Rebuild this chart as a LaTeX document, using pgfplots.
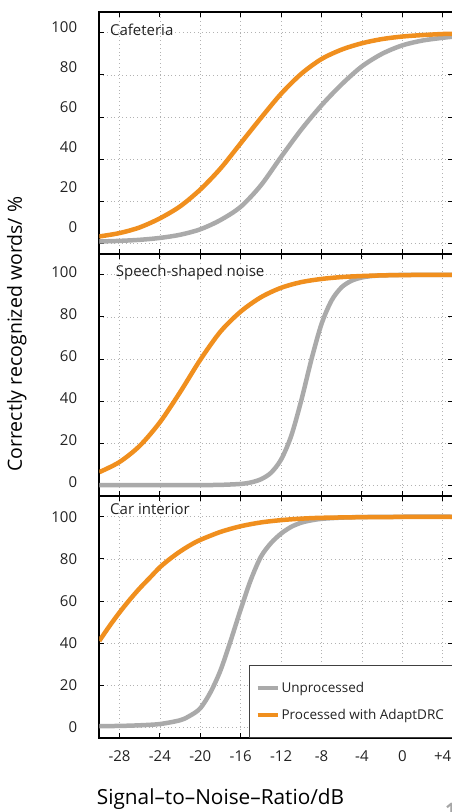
\documentclass[border=0pt]{standalone}
\usepackage{fontspec}
\setmainfont{Open Sans}
\usepackage{pgfplots}
\pgfplotsset{compat=1.18}
\definecolor{myorange}{RGB}{240,143,30}
\definecolor{mygray}{RGB}{170,170,170}
\definecolor{txt}{RGB}{34,34,34}

\pgfplotstableread{
x y
-30 0.8
-28 1.1
-26 1.6
-24 2.5
-22 4.0
-20 6.6
-18 11.0
-16 17.3
-14 27.5
-12 41.0
-10 54.0
-8 65.5
-6 75.5
-4 84.0
-2 90.0
0 94.0
2 96.3
4 97.6
5 98.1
}\grayA
\pgfplotstableread{
x y
-30 3.2
-28 4.8
-26 7.5
-24 11.8
-22 17.5
-20 25.5
-18 35.5
-16 47.5
-14 59.5
-12 71
-10 80.5
-8 87.5
-6 92
-4 95
-2 97
0 98.2
2 98.9
4 99.4
5 99.5
}\orangeA
\pgfplotstableread{
x y
-30 0
-24 0
-20 0.05
-18 0.15
-16 0.6
-15 1.3
-14 2.8
-13 5.9
-12 12.2
-11 23.4
-10 40.3
-9 59.7
-8 76.6
-7 87.8
-6 94.1
-5 97.2
-4 98.7
-3 99.4
-2 99.7
0 99.9
5 100
}\grayB
\pgfplotstableread{
x y
-30 6.2
-28 11.0
-26 18.7
-24 29.9
-22 44.2
-20 59.6
-18 73.0
-16 82.5
-14 89.3
-12 93.8
-10 96.5
-8 98.0
-6 98.9
-4 99.4
-2 99.7
0 99.85
5 100
}\orangeB
\pgfplotstableread{
x y
-30 0.5
-28 0.6
-26 0.9
-24 1.5
-22 3.3
-21 5.5
-20 9.0
-19 16.5
-18 27.0
-17 41.0
-16 56.0
-15 70.0
-14 81.0
-13 87.5
-12 92.0
-11 95.2
-10 97.2
-9 98.3
-8 99.0
-6 99.6
-4 99.85
0 100
5 100
}\grayC
\pgfplotstableread{
x y
-30 41
-29 48
-28 54.5
-27 60.5
-26 66
-25 71
-24 76
-23 80
-22 83.5
-21 86.5
-20 89
-18 92.8
-16 95.5
-14 97.3
-12 98.4
-10 99.1
-8 99.5
-4 99.8
0 99.9
5 100
}\orangeC

\pgfplotsset{panel/.style={
  scale only axis, width=353.5pt, height=242pt,
  xmin=-30, xmax=5, ymin=-5, ymax=110,
  xtick={-28,-24,...,4}, ytick={0,20,...,100},
  xticklabels={},
  yticklabels={0,20,40,60,80,100},
  grid=major,
  major grid style={black!30, line width=0.6pt, dash pattern=on 0.8pt off 3pt},
  axis line style={black, line width=1.6pt},
  tick style={black, line width=0.8pt},
  major tick length=5pt,
  tick align=inside,
  yticklabel style={font=\fontsize{15}{18}\selectfont, text=txt, inner sep=0pt, xshift=-22pt},
  xticklabel style={font=\fontsize{15}{18}\selectfont, text=txt, inner sep=0pt, yshift=-13pt},
  every axis plot/.append style={line width=4.5pt, smooth, no markers},
}}

\begin{document}
\begin{tikzpicture}
% Panel 1
\begin{axis}[panel, at={(0pt,0pt)}, anchor=north west,
  yticklabels={},
  extra y ticks={7.7,26.7,45.7,64.6,83.7,102.6},
  extra y tick labels={0,20,40,60,80,100},
  extra y tick style={grid=none, major tick length=0pt},
  ]
\addplot[mygray] table[x=x,y=y] {\grayA};
\addplot[myorange] table[x=x,y=y] {\orangeA};
\node[anchor=west, inner sep=0pt, font=\fontsize{15}{18}\selectfont, text=txt] at (axis description cs:0.03,0.924) {Cafeteria};
\end{axis}
% Panel 2
\begin{axis}[panel, at={(0pt,-242pt)}, anchor=north west,
  yticklabel style={yshift=3pt},
  ylabel={Correctly recognized words/ \%},
  ylabel style={at={(axis description cs:-0.233,0.667)}, anchor=center, font=\fontsize{19.5}{22}\selectfont, text=black},
  ]
\addplot[mygray] table[x=x,y=y] {\grayB};
\addplot[myorange] table[x=x,y=y] {\orangeB};
\node[anchor=west, inner sep=0pt, font=\fontsize{15}{18}\selectfont, text=txt] at (axis description cs:0.0464,0.923) {Speech-shaped noise};
\end{axis}
% Panel 3
\begin{axis}[panel, at={(0pt,-484pt)}, anchor=north west,
  xticklabels={-28,-24,-20,-16,-12,-8,-4,0,+4},
  xlabel={Signal–to–Noise–Ratio/dB},
  xlabel style={at={(axis description cs:-0.0074,-0.255)}, anchor=west, inner sep=0pt, font=\fontsize{20.8}{24}\selectfont, text=black},
  legend style={at={(1,0)}, anchor=south east, draw=black!75, line width=0.8pt, fill=white,
    font=\fontsize{13.5}{15}\selectfont, text=txt, inner xsep=6.5pt, inner ysep=14pt,
    row sep=12pt, nodes={inner sep=2pt}},
  legend cell align=left,
  legend image code/.code={\draw[#1, line width=4pt] (0pt,0pt) -- (20pt,0pt);},
  ]
\addplot[mygray] table[x=x,y=y] {\grayC};
\addlegendentry{Unprocessed}
\addplot[myorange] table[x=x,y=y] {\orangeC};
\addlegendentry{Processed with AdaptDRC}
\node[anchor=west, inner sep=0pt, font=\fontsize{15}{18}\selectfont, text=txt] at (axis description cs:0.0303,0.943) {Car interior};
\end{axis}
\node[anchor=north west, inner sep=0pt, text=black!35, font=\fontsize{20}{24}\selectfont\bfseries] at (345.7pt,-791.3pt) {1};
\pgfresetboundingbox
\path[use as bounding box] (-99.3pt,11.7pt) rectangle (352.7pt,-800.3pt);
\end{tikzpicture}
\end{document}
